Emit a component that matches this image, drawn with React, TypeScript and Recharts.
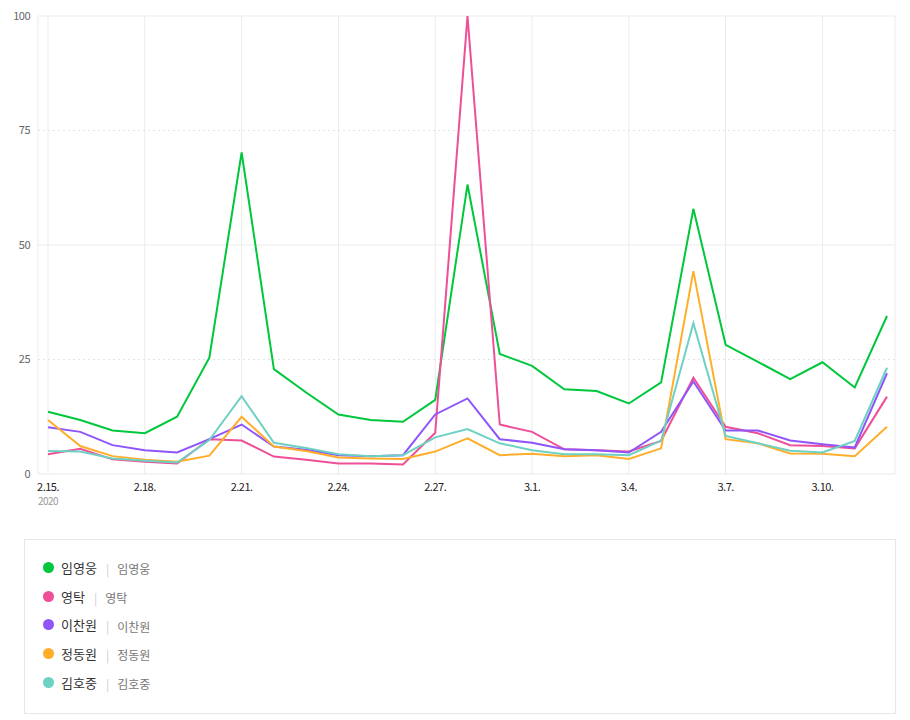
import { LineChart, Line, XAxis, YAxis, CartesianGrid, ReferenceLine } from 'recharts'

const dates = [
  '2.15.', '2.16.', '2.17.', '2.18.', '2.19.', '2.20.', '2.21.', '2.22.', '2.23.',
  '2.24.', '2.25.', '2.26.', '2.27.', '2.28.', '2.29.', '3.1.', '3.2.', '3.3.',
  '3.4.', '3.5.', '3.6.', '3.7.', '3.8.', '3.9.', '3.10.', '3.11.', '3.12.',
]
const xTicks = ['2.15.', '2.18.', '2.21.', '2.24.', '2.27.', '3.1.', '3.4.', '3.7.', '3.10.']
const yTicks = [0, 25, 50, 75, 100]

const limYoungwoong = [13.6, 11.8, 9.5, 8.9, 12.5, 25.4, 70.2, 22.9, 17.8, 13.0, 11.8, 11.4, 16.2, 63.2, 26.2, 23.6, 18.5, 18.1, 15.4, 20.0, 57.9, 28.2, 24.5, 20.7, 24.4, 18.9, 34.5]
const youngtak = [4.3, 5.5, 3.2, 2.7, 2.3, 7.6, 7.3, 3.8, 3.1, 2.3, 2.3, 2.1, 9.0, 100, 10.8, 9.2, 5.4, 5.2, 4.9, 7.2, 21.0, 10.3, 8.9, 6.3, 6.1, 5.6, 16.9]
const leeChanwon = [10.2, 9.2, 6.3, 5.2, 4.7, 7.6, 10.8, 6.0, 5.3, 4.1, 3.9, 4.1, 13.0, 16.5, 7.6, 6.8, 5.4, 5.2, 4.7, 9.2, 20.2, 9.5, 9.5, 7.3, 6.5, 5.8, 22.0]
const jeongDongwon = [11.8, 6.1, 3.9, 3.1, 2.7, 4.0, 12.5, 6.0, 5.0, 3.6, 3.4, 3.3, 4.9, 7.8, 4.1, 4.4, 3.9, 4.1, 3.3, 5.6, 44.3, 7.6, 6.7, 4.5, 4.4, 3.9, 10.3]
const kimHojoong = [5.0, 4.9, 3.4, 2.9, 2.5, 7.4, 17.0, 6.8, 5.7, 4.3, 3.9, 4.1, 8.0, 9.8, 6.7, 5.2, 4.3, 4.3, 4.1, 7.3, 32.9, 8.3, 6.7, 5.1, 4.7, 7.2, 23.2]

const series = [
  { key: 'a', name: '임영웅', color: '#00c73c', values: limYoungwoong },
  { key: 'b', name: '영탁', color: '#ee4f97', values: youngtak },
  { key: 'c', name: '이찬원', color: '#8f55fa', values: leeChanwon },
  { key: 'd', name: '정동원', color: '#ffae2c', values: jeongDongwon },
  { key: 'e', name: '김호중', color: '#6dd1c3', values: kimHojoong },
]

const data = dates.map((d, i) => {
  const row: Record<string, string | number> = { date: d }
  series.forEach((s) => { row[s.key] = s.values[i] })
  return row
})

const font = '"Noto Sans CJK KR", "Noto Sans", sans-serif'
const gridColor = '#ebebeb'

function DateTick({ x, y, payload }: any) {
  return (
    <g transform={`translate(${x},${y})`}>
      <text textAnchor="middle" dy={9} fontSize={11} fill="#222" fontFamily={font} letterSpacing={-0.5}>
        {payload.value}
      </text>
      {payload.value === dates[0] && (
        <text textAnchor="middle" dy={23} fontSize={10} fill="#999" fontFamily={font} letterSpacing={-0.5}>
          2020
        </text>
      )}
    </g>
  )
}

export default function App() {
  return (
    <div style={{ fontFamily: font }}>
      <LineChart width={894} height={515} data={data} margin={{ top: 8, right: 7, bottom: 19, left: 0 }}>
        <CartesianGrid horizontal={false} stroke={gridColor} />
        {yTicks.map((v) => (
          <ReferenceLine
            key={v}
            y={v}
            stroke={v % 50 === 0 ? gridColor : '#e4e4e4'}
            strokeDasharray={v % 50 === 0 ? undefined : '2 3'}
          />
        ))}
        <XAxis
          dataKey="date"
          ticks={xTicks}
          interval={0}
          axisLine={false}
          tickLine={false}
          height={30}
          padding={{ left: 10, right: 8 }}
          tick={<DateTick />}
        />
        <YAxis
          domain={[0, 100]}
          ticks={yTicks}
          width={30}
          axisLine={false}
          tickLine={false}
          tick={{ fontSize: 11, fill: '#666', fontFamily: font, letterSpacing: -0.5 }}
        />
        {series.map((s) => (
          <Line
            key={s.key}
            dataKey={s.key}
            name={s.name}
            type="linear"
            stroke={s.color}
            strokeWidth={2}
            dot={false}
            activeDot={false}
            isAnimationActive={false}
          />
        ))}
      </LineChart>
      {/* legend box under the chart */}
      <div
        style={{
          marginTop: 16,
          marginLeft: 16,
          width: 872,
          height: 175,
          border: '1px solid #e6e6e6',
          boxSizing: 'border-box',
          paddingTop: 13,
        }}
      >
        {series.map((s) => (
          <div key={s.key} style={{ display: 'flex', alignItems: 'center', height: 28.7, paddingLeft: 18 }}>
            <span
              style={{
                width: 11,
                height: 11,
                borderRadius: '50%',
                background: s.color,
                display: 'inline-block',
                marginRight: 7,
              }}
            />
            <span style={{ fontSize: 13, color: '#333' }}>{s.name}</span>
            <span style={{ fontSize: 12, color: '#ccc', margin: '2px 8px 0 9px' }}>|</span>
            <span style={{ fontSize: 12, color: '#777', marginTop: 3 }}>{s.name}</span>
          </div>
        ))}
      </div>
    </div>
  )
}
